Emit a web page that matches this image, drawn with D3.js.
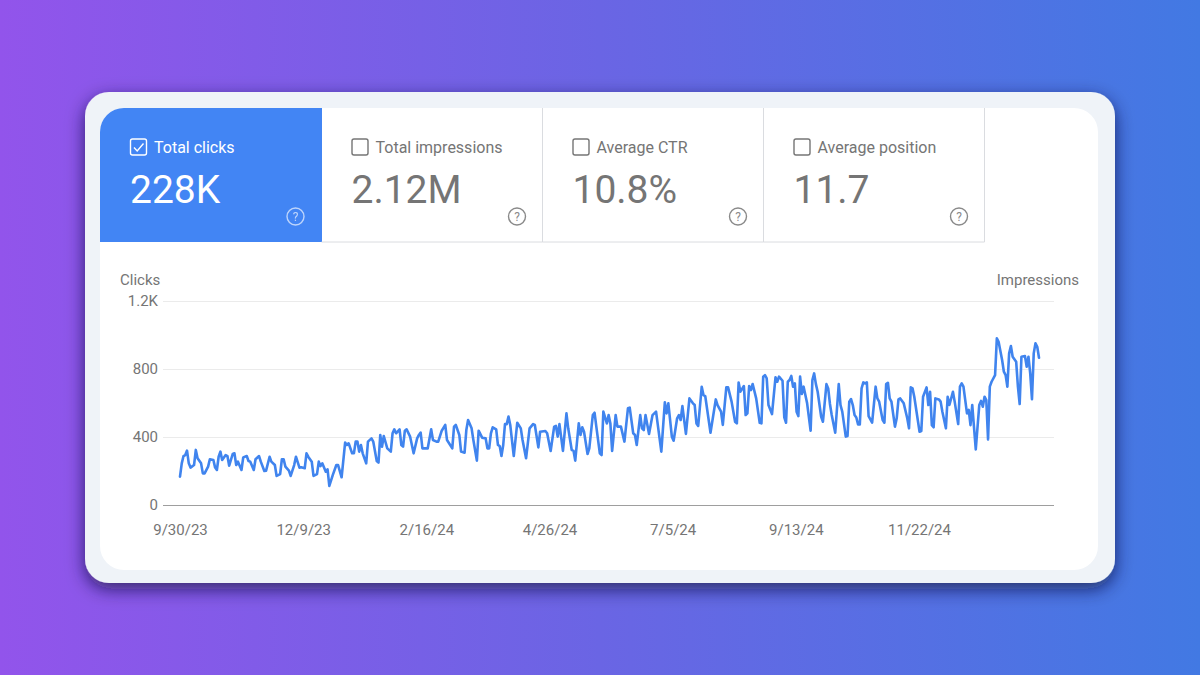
<!DOCTYPE html>
<html>
<head>
<meta charset="utf-8">
<style>
    html, body { margin: 0; padding: 0; overflow: hidden; }
    text { font-family: Roboto, sans-serif; }
</style>
<script src="https://cdn.jsdelivr.net/npm/d3@7"></script>
</head>
<body>
<div id="chart"></div>
<script>
const metricNames = ["Total clicks", "Total impressions", "Average CTR", "Average position"]
const metricValues = ["228K", "2.12M", "10.8%", "11.7"]
const yTicks = [0, 400, 800, 1200]
const xLabels = ["9/30/23", "12/9/23", "2/16/24", "4/26/24", "7/5/24", "9/13/24", "11/22/24"]

// days since 9/30/23 at each turn of the line
const days = [0, 1, 2, 3, 4, 5, 6, 8, 9, 10, 12, 13, 14, 16, 17, 19, 20, 21, 22, 23, 24, 26, 27, 28, 30, 31, 32, 33, 35, 36, 38, 39, 40, 42, 43, 45, 46, 48, 49, 51, 52, 54, 55, 57, 58, 59, 60, 62, 63, 65, 66, 68, 69, 71, 72, 73, 75, 76, 78, 79, 80, 81, 83, 84, 85, 87, 89, 90, 92, 94, 95, 96, 98, 99, 100, 101, 102, 103, 104, 106, 107, 109, 110, 112, 113, 114, 115, 116, 118, 120, 121, 122, 123, 125, 126, 127, 128, 129, 131, 133, 135, 136, 137, 138, 139, 141, 143, 144, 146, 147, 149, 151, 152, 155, 156, 157, 159, 160, 162, 163, 164,
    166, 167, 169, 170, 172, 174, 175, 176, 177, 178, 180, 181, 182, 183, 184, 185, 186, 187, 188, 190, 192, 194, 195, 197, 199, 201, 202, 204, 205, 208, 209, 211, 213, 214, 215, 216, 218, 220, 221, 223, 224, 225, 227, 228, 229, 230, 232, 233, 235, 236, 237, 239, 240, 241, 243, 244, 245, 246, 248, 249, 251, 253, 255, 256, 258, 259, 260, 262, 263, 264, 265, 267, 269, 271, 274, 276, 277, 278, 280, 281, 283, 284, 285, 286, 287, 288, 290, 292, 293, 294, 295, 297, 298, 299, 302, 305, 306, 308, 309, 311, 312, 314, 316, 317, 318, 319, 321, 322, 323, 324, 325, 326, 328, 330,
    331, 332, 333, 334, 335, 337, 339, 340, 341, 343, 344, 345, 346, 347, 348, 349, 350, 351, 352, 353, 354, 355, 357, 359, 360, 361, 362, 363, 365, 366, 368, 369, 370, 371, 373, 375, 376, 377, 379, 380, 381, 382, 383, 384, 385, 386, 387, 388, 389, 390, 391, 392, 394, 396, 397, 398, 400, 401, 402, 403, 404, 405, 407, 408, 409, 410, 412, 414, 415, 416, 417, 418, 421, 422, 423, 425, 426, 427, 428, 429, 430, 432, 433, 434, 436, 437, 438, 440, 441, 443, 444, 445, 446, 448, 449, 450, 451, 453, 455, 456, 457, 458, 459, 460, 461, 462, 464, 465, 466, 468, 469, 470, 471, 472, 473, 474, 476, 477, 478, 479, 481, 482, 483, 484, 485, 486, 487, 488, 489]
const clicks = [167, 245, 288, 294, 320, 245, 220, 235, 324, 275, 245, 186, 186, 226, 269, 265, 220, 206, 284, 314, 265, 294, 288, 231, 300, 304, 235, 255, 206, 280, 288, 259, 255, 206, 269, 288, 255, 200, 202, 284, 255, 235, 171, 182, 269, 269, 226, 202, 171, 235, 284, 220, 222, 216, 304, 284, 255, 171, 182, 255, 229, 245, 196, 210, 112, 177, 235, 235, 163, 367, 353, 363, 304, 304, 373, 373, 314, 353, 304, 245, 373, 392, 373, 259, 249, 412, 343, 406, 333, 314, 422, 445, 422, 445, 353, 343, 437, 445, 402, 304, 392, 412, 426, 333, 333, 333, 445, 382, 373, 373, 437, 471, 382, 333, 461, 471, 412, 314, 308, 441, 500,
    451, 382, 261, 437, 396, 392, 333, 333, 422, 457, 445, 353, 347, 288, 353, 476, 476, 520, 471, 288, 484, 451, 382, 275, 451, 476, 471, 339, 431, 435, 422, 318, 461, 465, 402, 476, 318, 539, 451, 324, 320, 261, 480, 412, 457, 431, 300, 333, 529, 543, 461, 304, 294, 549, 480, 529, 480, 318, 529, 461, 461, 373, 569, 573, 422, 412, 353, 529, 451, 441, 529, 418, 529, 549, 314, 604, 539, 598, 402, 378, 510, 529, 500, 582, 500, 418, 627, 598, 588, 480, 465, 696, 647, 641, 425, 621, 588, 549, 471, 692, 692, 608, 490, 480, 720, 667, 700, 529, 539, 700, 676, 712, 627, 484,
    480, 755, 764, 745, 588, 535, 751, 725, 755, 731, 515, 484, 725, 735, 759, 696, 715, 549, 523, 755, 653, 696, 598, 437, 735, 774, 711, 666, 519, 490, 711, 686, 594, 529, 425, 711, 588, 549, 402, 406, 608, 623, 588, 529, 515, 474, 474, 686, 721, 715, 721, 523, 484, 696, 627, 608, 500, 484, 711, 719, 627, 608, 461, 510, 621, 627, 598, 510, 451, 692, 686, 637, 431, 435, 637, 692, 588, 666, 470, 457, 627, 621, 608, 549, 451, 637, 588, 666, 608, 476, 696, 715, 696, 539, 559, 470, 588, 327, 588, 612, 578, 637, 617, 386, 696, 725, 764, 980, 960, 853, 784, 764, 696, 892, 935, 872, 843, 696, 594, 872, 876, 813, 872, 774, 623, 892, 951, 931, 866]

const tileLeft = [100, 321.5, 542.5, 763.5]
const tileWidth = [222, 221, 221, 221]
const blue = "#4285F4"
const grey = "#757575"

const svg = d3.select("#chart")
    .append("svg")
    .attr("width", 1200)
    .attr("height", 675)
    .style("display", "block")

const defs = svg.append("defs")

const grad = defs.append("linearGradient")
    .attr("id", "bg")
grad.append("stop").attr("offset", "0%").attr("stop-color", "#9254EB")
grad.append("stop").attr("offset", "50%").attr("stop-color", "#6A65E4")
grad.append("stop").attr("offset", "100%").attr("stop-color", "#4279E3")

defs.append("filter")
    .attr("id", "shadow")
    .attr("x", "-10%")
    .attr("y", "-10%")
    .attr("width", "120%")
    .attr("height", "125%")
    .append("feDropShadow")
    .attr("dx", 0)
    .attr("dy", 6)
    .attr("stdDeviation", 9)
    .attr("flood-color", "#140f38")
    .attr("flood-opacity", 0.7)

svg.append("rect")
    .attr("width", 1200)
    .attr("height", 675)
    .attr("fill", "url(#bg)")

svg.append("rect")
    .attr("x", 85)
    .attr("y", 92)
    .attr("width", 1030)
    .attr("height", 491)
    .attr("rx", 24)
    .attr("fill", "#EFF3F8")
    .attr("filter", "url(#shadow)")

svg.append("rect")
    .attr("x", 100)
    .attr("y", 108)
    .attr("width", 998)
    .attr("height", 462)
    .attr("rx", 24)
    .attr("fill", "#fff")

// metric tiles
const tile = svg.selectAll(".tile")
    .data(metricNames)
    .enter().append("g")
    .attr("class", "tile")
    .attr("transform", (d, i) => `translate(${tileLeft[i]},108)`)

// first tile is the selected one, rounded only at the top left
tile.filter((d, i) => i === 0).append("path")
    .attr("d", "M0,134V24A24,24 0 0 1 24,0H222V134Z")
    .attr("fill", blue)

tile.filter((d, i) => i > 0).append("path")
    .attr("d", (d, i) => `M0,134H${tileWidth[i + 1]}V0`)
    .attr("fill", "none")
    .attr("stroke", "#DADCE0")
    .attr("stroke-width", 1)

tile.append("rect")
    .attr("x", 30.5)
    .attr("y", 31)
    .attr("width", 16)
    .attr("height", 16)
    .attr("rx", 2)
    .attr("fill", "none")
    .attr("stroke", (d, i) => i === 0 ? "#fff" : grey)
    .attr("stroke-width", 1.4)

tile.filter((d, i) => i === 0).append("path")
    .attr("d", "M34,39.5L37.2,43L43.5,35.5")
    .attr("fill", "none")
    .attr("stroke", "#fff")
    .attr("stroke-width", 1.4)

tile.append("text")
    .attr("x", 54)
    .attr("y", 44.5)
    .attr("font-size", 16)
    .attr("fill", (d, i) => i === 0 ? "#fff" : grey)
    .text(d => d)

tile.append("text")
    .attr("x", 30)
    .attr("y", 95)
    .attr("font-size", 39)
    .attr("fill", (d, i) => i === 0 ? "#fff" : grey)
    .text((d, i) => metricValues[i])

const help = tile.append("g")
    .attr("transform", "translate(195.5,108.5)")
    .attr("opacity", (d, i) => i === 0 ? 0.65 : 1)
help.append("circle")
    .attr("r", 8.5)
    .attr("fill", "none")
    .attr("stroke", (d, i) => i === 0 ? "#fff" : "#8a8a8a")
    .attr("stroke-width", 1.4)
help.append("text")
    .attr("y", 4.5)
    .attr("text-anchor", "middle")
    .attr("font-size", 12)
    .attr("fill", (d, i) => i === 0 ? "#fff" : "#8a8a8a")
    .text("?")

// chart
const x = d3.scaleLinear()
    .domain([0, 489])
    .range([180, 1039])
const xAxisScale = d3.scalePoint()
    .domain(xLabels)
    .range([180, 919])
const y = d3.scaleLinear()
    .domain([0, 1200])
    .range([505, 301])

const yAxis = svg.append("g")
    .attr("transform", "translate(163,0)")
    .call(d3.axisLeft(y)
        .tickValues(yTicks)
        .tickFormat(d => d >= 1000 ? d3.format(".1f")(d / 1000) + "K" : d)
        .tickSize(-891)
        .tickPadding(5))
yAxis.select(".domain").remove()
yAxis.selectAll("line")
    .attr("stroke", d => d === 0 ? "#9e9e9e" : "#EBEBEB")
    .attr("stroke-width", d => d === 0 ? 1.2 : 1)
yAxis.selectAll("text")
    .attr("font-size", 15)
    .attr("font-family", "Roboto")
    .attr("fill", grey)

const xAxis = svg.append("g")
    .attr("transform", "translate(0,505)")
    .call(d3.axisBottom(xAxisScale).tickSize(0).tickPadding(19))
xAxis.select(".domain").remove()
xAxis.selectAll("text")
    .attr("font-size", 15)
    .attr("font-family", "Roboto")
    .attr("fill", grey)

svg.append("text")
    .attr("x", 120)
    .attr("y", 285)
    .attr("font-size", 15)
    .attr("fill", grey)
    .text("Clicks")

svg.append("text")
    .attr("x", 1079)
    .attr("y", 285)
    .attr("text-anchor", "end")
    .attr("font-size", 15)
    .attr("fill", grey)
    .text("Impressions")

svg.append("path")
    .datum(days)
    .attr("fill", "none")
    .attr("stroke", "#4084EE")
    .attr("stroke-width", 2.6)
    .attr("stroke-linejoin", "round")
    .attr("stroke-linecap", "round")
    .attr("d", d3.line()
        .x(d => x(d))
        .y((d, i) => y(clicks[i])))
</script>
</body>
</html>
